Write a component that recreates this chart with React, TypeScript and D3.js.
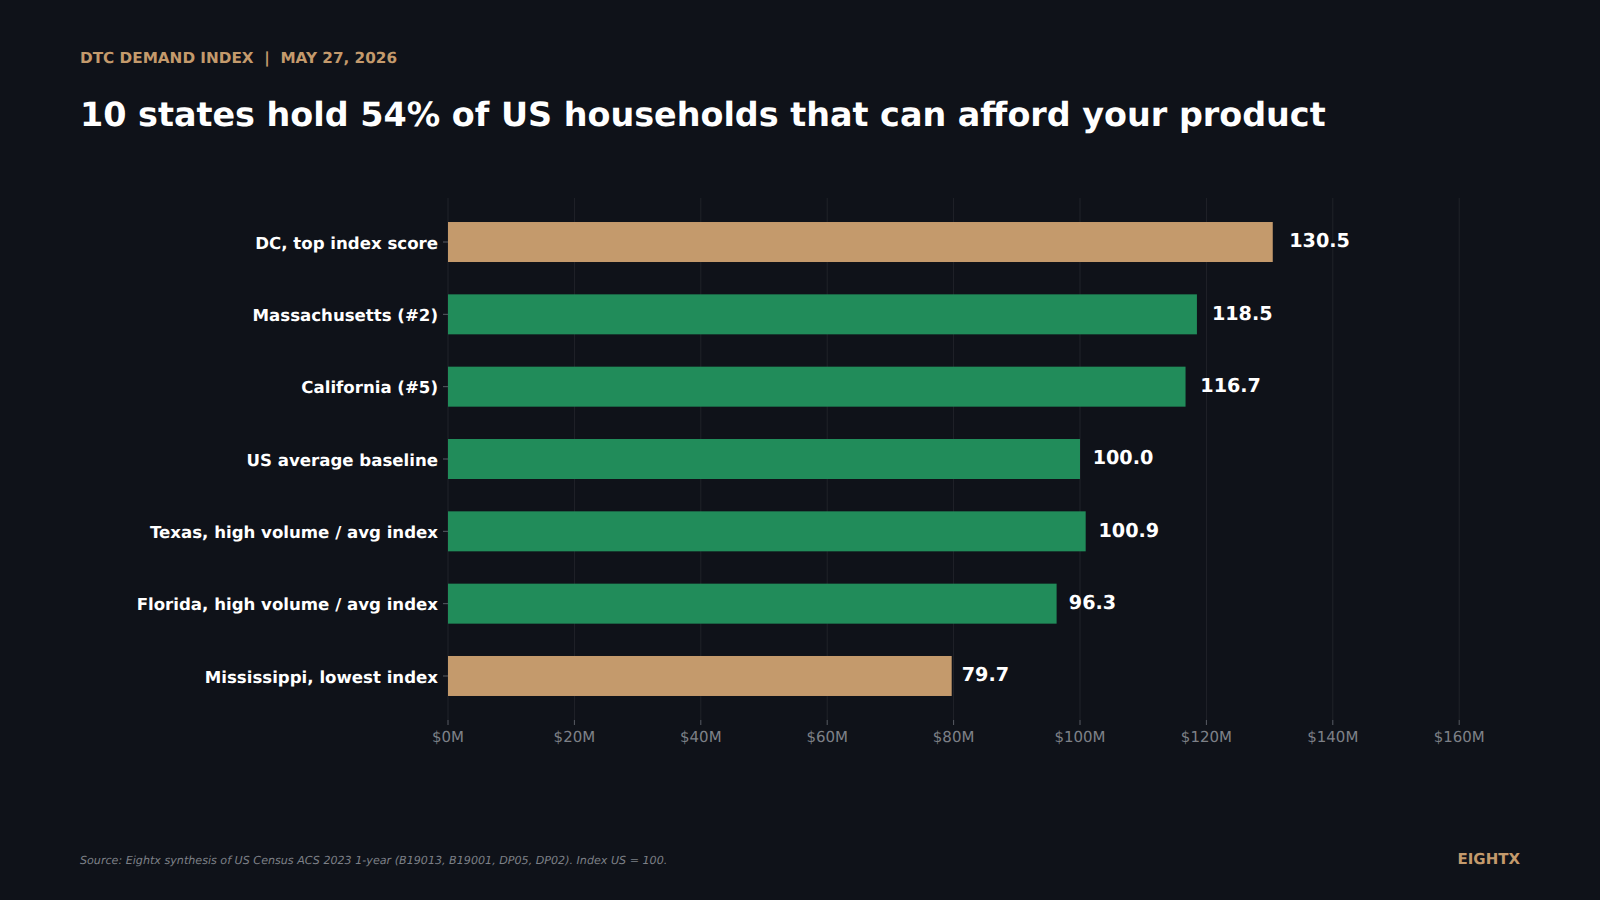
import React, { useEffect, useRef } from "react";
import * as d3 from "d3";

const categories = [
  "DC, top index score",
  "Massachusetts (#2)",
  "California (#5)",
  "US average baseline",
  "Texas, high volume / avg index",
  "Florida, high volume / avg index",
  "Mississippi, lowest index",
];
const indexValues = [130.5, 118.5, 116.7, 100.0, 100.9, 96.3, 79.7];
const highlighted = ["DC, top index score", "Mississippi, lowest index"];
const xTicks = [0, 20, 40, 60, 80, 100, 120, 140, 160];

const width = 1600;
const height = 900;
const plot = { left: 448, top: 198, bottom: 720 };
const pxPerUnit = 6.32;
const xMax = 170;
const bg = "#0f1219";
const tan = "#c49a6c";
const green = "#218c5a";
const font = "'DejaVu Sans', sans-serif";

const App = () => {
  const ref = useRef<SVGSVGElement>(null);

  useEffect(() => {
    const svg = d3.select(ref.current);
    svg.selectAll("*").remove();

    const x = d3
      .scaleLinear()
      .domain([0, xMax])
      .range([plot.left, plot.left + xMax * pxPerUnit]);
    const y = d3
      .scaleBand<string>()
      .domain(categories)
      .range([plot.top, plot.bottom])
      .paddingInner(0.447)
      .paddingOuter(0.332);

    // grid
    svg
      .append("g")
      .selectAll("line")
      .data(xTicks)
      .enter()
      .append("line")
      .attr("x1", (d) => x(d))
      .attr("x2", (d) => x(d))
      .attr("y1", plot.top)
      .attr("y2", plot.bottom)
      .attr("stroke", "#ffffff")
      .attr("stroke-opacity", 0.07)
      .attr("stroke-width", 1);

    // x axis
    const xAxis = svg
      .append("g")
      .attr("transform", `translate(0,${plot.bottom})`)
      .call(
        d3
          .axisBottom(x)
          .tickValues(xTicks)
          .tickFormat((d) => `$${d}M`)
          .tickSize(5)
          .tickPadding(6)
          .offset(0)
      );
    xAxis.select(".domain").remove();
    xAxis.selectAll("line").attr("stroke", "#6b6f76").attr("stroke-width", 0.8);
    xAxis
      .selectAll("text")
      .attr("fill", "#7d8087")
      .attr("font-family", font)
      .attr("font-size", 15);

    // y axis
    const yAxis = svg
      .append("g")
      .attr("transform", `translate(${plot.left},0)`)
      .call(d3.axisLeft(y).tickSize(5).tickPadding(5));
    yAxis.select(".domain").remove();
    yAxis.selectAll("line").attr("stroke", "#6b6f76").attr("stroke-width", 0.8);
    yAxis
      .selectAll("text")
      .attr("fill", "#ffffff")
      .attr("font-family", font)
      .attr("font-size", 16.6)
      .attr("font-weight", 700)
      .attr("dy", "0.40em");

    // bars
    svg
      .append("g")
      .selectAll("rect")
      .data(categories)
      .enter()
      .append("rect")
      .attr("x", x(0))
      .attr("y", (d) => y(d) as number)
      .attr("width", (d, i) => x(indexValues[i]) - x(0))
      .attr("height", y.bandwidth())
      .attr("fill", (d) => (highlighted.includes(d) ? tan : green));

    // value labels sit 2% past the bar end
    svg
      .append("g")
      .selectAll("text")
      .data(categories)
      .enter()
      .append("text")
      .text((d, i) => indexValues[i].toFixed(1))
      .attr("x", (d, i) => x(indexValues[i] * 1.02))
      .attr("y", (d) => (y(d) as number) + y.bandwidth() / 2 - 1.5)
      .attr("dy", "0.35em")
      .attr("fill", "#ffffff")
      .attr("font-family", font)
      .attr("font-size", 19.2)
      .attr("font-weight", 700);

    // header + footer
    svg
      .append("text")
      .text("DTC DEMAND INDEX  |  MAY 27, 2026")
      .attr("x", 80)
      .attr("y", 63)
      .style("white-space", "pre")
      .attr("fill", tan)
      .attr("font-family", font)
      .attr("font-size", 15.25)
      .attr("font-weight", 700);
    svg
      .append("text")
      .text("10 states hold 54% of US households that can afford your product")
      .attr("x", 80)
      .attr("y", 126)
      .attr("fill", "#ffffff")
      .attr("font-family", font)
      .attr("font-size", 33.4)
      .attr("font-weight", 700);
    svg
      .append("text")
      .text("Source: Eightx synthesis of US Census ACS 2023 1-year (B19013, B19001, DP05, DP02). Index US = 100.")
      .attr("x", 80)
      .attr("y", 864)
      .attr("fill", "#7d8087")
      .attr("font-family", font)
      .attr("font-size", 11.13)
      .attr("font-style", "italic");
    svg
      .append("text")
      .text("EIGHTX")
      .attr("x", 1520)
      .attr("y", 864)
      .attr("text-anchor", "end")
      .attr("fill", tan)
      .attr("font-family", font)
      .attr("font-size", 15)
      .attr("font-weight", 700);

    svg.selectAll("text").style("text-rendering", "geometricPrecision");
  }, []);

  return (
    <svg
      ref={ref}
      width={width}
      height={height}
      style={{ position: "absolute", left: 0, top: 0, background: bg }}
    />
  );
};

export default App;
